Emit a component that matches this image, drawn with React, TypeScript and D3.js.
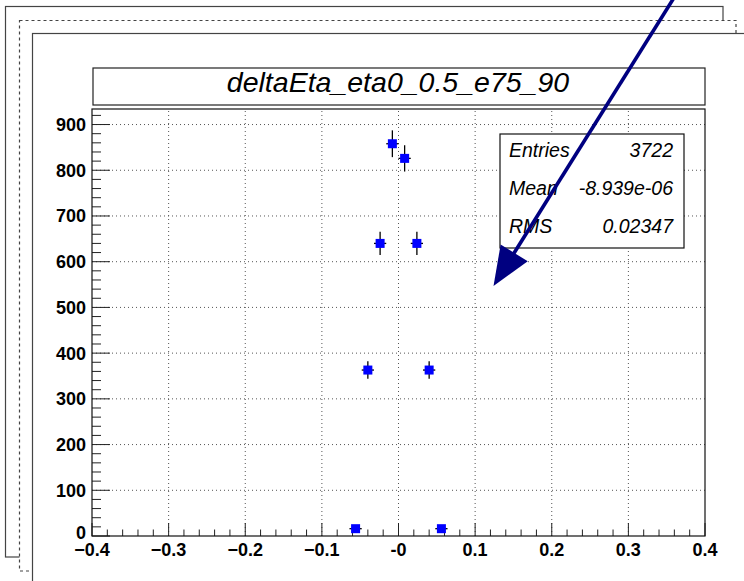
import { useEffect, useRef } from "react";
import * as d3 from "d3";

const binCenters = [-0.056, -0.04, -0.024, -0.008, 0.008, 0.024, 0.04, 0.056];
const binCounts = [16, 363, 640, 858, 826, 640, 363, 16];
const binWidth = 0.016;

const statLabels = ["Entries", "Mean", "RMS"];
const statValues = ["3722", "-8.939e-06", "0.02347"];

const histTitle = "deltaEta_eta0_0.5_e75_90";

// arrow annotation, in user (axis) coordinates
const arrowFrom = { x: 0.368, y: 1200 };
const arrowTo = { x: 0.124, y: 547 };

export default function App() {
  const ref = useRef<SVGSVGElement>(null);

  useEffect(() => {
    if (!ref.current) return;
    const svg = d3.select(ref.current);
    svg.selectAll("*").remove();

    const frame = { left: 92, top: 109, right: 705, bottom: 536 };
    const font = "'Liberation Sans', Arial, Helvetica, sans-serif";

    // stacked canvases behind
    svg.append("rect").attr("x", 5.5).attr("y", 6.5).attr("width", 717.5).attr("height", 550.5)
      .attr("fill", "#fff").attr("stroke", "#444").attr("stroke-width", 1.2);
    svg.append("rect").attr("x", 19.5).attr("y", 20.5).attr("width", 716.5).attr("height", 550.5)
      .attr("fill", "#fff").attr("stroke", "#444").attr("stroke-width", 1.2).attr("stroke-dasharray", "3,3");
    svg.append("rect").attr("x", 32.5).attr("y", 33.5).attr("width", 730).attr("height", 570)
      .attr("fill", "#fff").attr("stroke", "#444").attr("stroke-width", 1.2);

    const x = d3.scaleLinear().domain([-0.4, 0.4]).range([frame.left, frame.right]);
    const y = d3.scaleLinear().domain([0, 934]).range([frame.bottom, frame.top]);

    const xMajor = d3.range(-4, 5).map((i) => i / 10);
    const xMinor = d3.range(-20, 21).map((i) => i / 50).filter((v) => Math.abs(Math.round(v * 10) - v * 10) > 1e-6);
    const yMajor = d3.range(0, 1000, 100);
    const yMinor = d3.range(20, 934, 20).filter((v) => v % 100 !== 0);

    const g = svg.append("g");

    // grid
    g.selectAll(".gx").data(xMajor.slice(1, -1)).enter().append("line")
      .attr("x1", (d) => x(d)).attr("x2", (d) => x(d))
      .attr("y1", frame.bottom).attr("y2", frame.top)
      .attr("stroke", "#555").attr("stroke-width", 1).attr("stroke-dasharray", "1,3");
    g.selectAll(".gy").data(yMajor.slice(1)).enter().append("line")
      .attr("x1", frame.left).attr("x2", frame.right)
      .attr("y1", (d) => y(d)).attr("y2", (d) => y(d))
      .attr("stroke", "#555").attr("stroke-width", 1).attr("stroke-dasharray", "1,3");

    // ticks
    g.selectAll(".tx").data(xMajor).enter().append("line")
      .attr("x1", (d) => x(d)).attr("x2", (d) => x(d))
      .attr("y1", frame.bottom).attr("y2", frame.bottom - 13)
      .attr("stroke", "#222").attr("stroke-width", 1);
    g.selectAll(".txm").data(xMinor).enter().append("line")
      .attr("x1", (d) => x(d)).attr("x2", (d) => x(d))
      .attr("y1", frame.bottom).attr("y2", frame.bottom - 6.5)
      .attr("stroke", "#222").attr("stroke-width", 1);
    g.selectAll(".ty").data(yMajor).enter().append("line")
      .attr("x1", frame.left).attr("x2", frame.left + 18)
      .attr("y1", (d) => y(d)).attr("y2", (d) => y(d))
      .attr("stroke", "#222").attr("stroke-width", 1);
    g.selectAll(".tym").data(yMinor).enter().append("line")
      .attr("x1", frame.left).attr("x2", frame.left + 9)
      .attr("y1", (d) => y(d)).attr("y2", (d) => y(d))
      .attr("stroke", "#222").attr("stroke-width", 1);

    // frame
    g.append("rect")
      .attr("x", frame.left).attr("y", frame.top)
      .attr("width", frame.right - frame.left).attr("height", frame.bottom - frame.top)
      .attr("fill", "none").attr("stroke", "#111").attr("stroke-width", 1.2);

    // tick labels
    g.selectAll(".lx").data(xMajor).enter().append("text")
      .attr("x", (d) => x(d)).attr("y", 556)
      .attr("text-anchor", "middle")
      .attr("font-family", font).attr("font-weight", "bold").attr("font-size", 18)
      .attr("fill", "#000")
      .text((d) => (Math.abs(d) < 1e-9 ? "-0" : d3.format(".1f")(d)));
    g.selectAll(".ly").data(yMajor).enter().append("text")
      .attr("x", frame.left - 6).attr("y", (d) => y(d) + (d === 0 ? 3 : 6.5))
      .attr("text-anchor", "end")
      .attr("font-family", font).attr("font-weight", "bold").attr("font-size", 18)
      .attr("fill", "#000")
      .text((d) => String(d));

    // error bars
    const pts = binCenters.map((c, i) => ({ c, n: binCounts[i] }));
    const eb = g.append("g").attr("stroke", "#000").attr("stroke-width", 1.3);
    pts.forEach((p) => {
      const e = Math.sqrt(p.n);
      eb.append("line")
        .attr("x1", x(p.c)).attr("x2", x(p.c))
        .attr("y1", Math.min(y(p.n - e), frame.bottom)).attr("y2", y(p.n + e));
      eb.append("line")
        .attr("x1", x(p.c - binWidth / 2)).attr("x2", x(p.c + binWidth / 2))
        .attr("y1", y(p.n)).attr("y2", y(p.n));
    });
    const ms = 9;
    g.selectAll(".m").data(pts).enter().append("rect")
      .attr("x", (d) => x(d.c) - ms / 2).attr("y", (d) => y(d.n) - ms / 2)
      .attr("width", ms).attr("height", ms)
      .attr("fill", "#0000ff");

    // title box
    svg.append("rect").attr("x", 93).attr("y", 68).attr("width", 612).attr("height", 37)
      .attr("fill", "#fff").attr("stroke", "#222").attr("stroke-width", 1.2);
    svg.append("text").attr("x", 398).attr("y", 92)
      .attr("text-anchor", "middle")
      .attr("font-family", font).attr("font-style", "italic").attr("font-size", 28.5)
      .attr("fill", "#000")
      .text(histTitle);

    // stats box
    svg.append("rect").attr("x", 500).attr("y", 134).attr("width", 184).attr("height", 114)
      .attr("fill", "#fff").attr("stroke", "#111").attr("stroke-width", 1.2);
    statLabels.forEach((lab, i) => {
      const by = 157 + i * 38;
      svg.append("text").attr("x", 509).attr("y", by)
        .attr("font-family", font).attr("font-style", "italic").attr("font-size", 19.5)
        .attr("fill", "#000").text(lab);
      svg.append("text").attr("x", 673).attr("y", by)
        .attr("text-anchor", "end")
        .attr("font-family", font).attr("font-style", "italic").attr("font-size", 19.5)
        .attr("fill", "#000").text(statValues[i]);
    });

    // arrow
    const x0 = x(arrowFrom.x), y0 = y(arrowFrom.y);
    const x1 = x(arrowTo.x), y1 = y(arrowTo.y);
    const len = Math.hypot(x1 - x0, y1 - y0);
    const ux = (x1 - x0) / len, uy = (y1 - y0) / len;
    const headLen = 39, headHalf = 16;
    const bx = x1 - ux * headLen, by = y1 - uy * headLen;
    svg.append("line")
      .attr("x1", x0).attr("y1", y0).attr("x2", bx + ux * 2).attr("y2", by + uy * 2)
      .attr("stroke", "#000080").attr("stroke-width", 3.6);
    svg.append("polygon")
      .attr("points", [
        [x1, y1],
        [bx - uy * headHalf, by + ux * headHalf],
        [bx + uy * headHalf, by - ux * headHalf],
      ].map((p) => p.join(",")).join(" "))
      .attr("fill", "#000080");
  }, []);

  return (
    <svg
      ref={ref}
      width={744}
      height={581}
      style={{ position: "absolute", left: 0, top: 0, background: "#fff" }}
    />
  );
}
